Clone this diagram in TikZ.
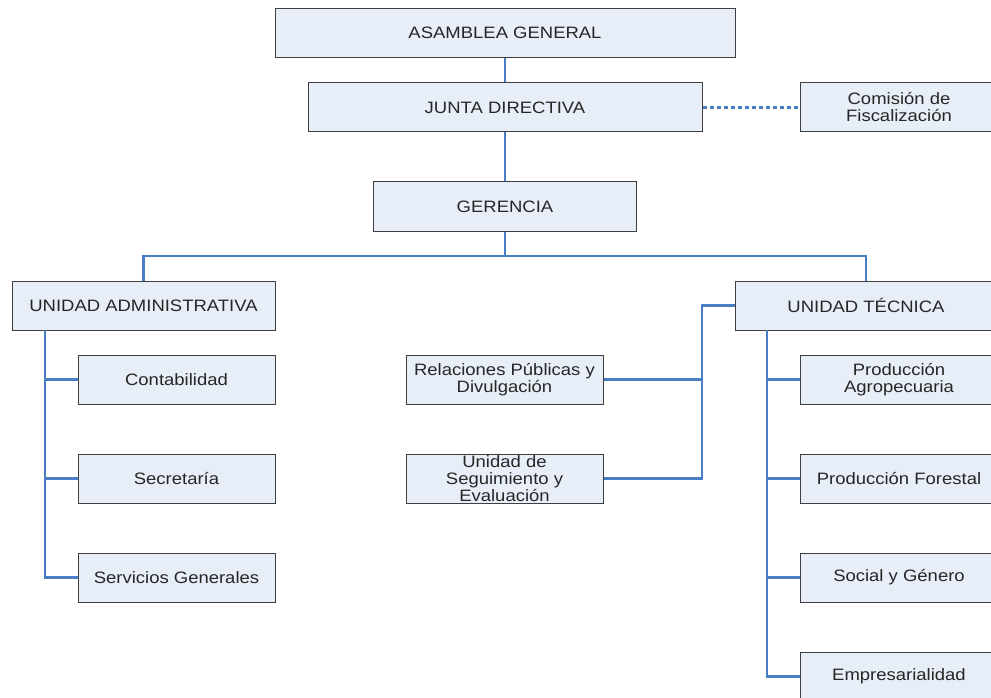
\documentclass[tikz,border=0pt]{standalone}
\usepackage{fontspec}
\setmainfont{Liberation Sans}[FakeStretch=1.12]
\definecolor{boxfill}{HTML}{E8EEF7}
\definecolor{boxline}{HTML}{3F3F3F}
\definecolor{linkblue}{HTML}{4A7EC4}
\tikzset{
    unit/.style={draw=boxline,fill=boxfill,line width=1pt,rectangle,align=center,
        minimum width=197pt,minimum height=49pt,inner sep=0pt,text=black!85},
    link/.style={draw=linkblue,line width=2.8pt},
    dashlink/.style={draw=linkblue,line width=2.4pt,dash pattern=on 4pt off 3pt}
}
\begin{document}
\begin{tikzpicture}[x=1pt,y=-1pt,font=\fontsize{16.5}{17}\selectfont]
    \clip(0,0)rectangle(991,698);
    \fill[white](0,0)rectangle(991,698);

    \node[unit,minimum width=460pt](asamblea)at(505,33){ASAMBLEA GENERAL};
    \node[unit,minimum width=394pt](junta)at(505,107.5){JUNTA DIRECTIVA};
    \node[unit,minimum width=198pt](comision)at(899,107.5){Comisión de\\Fiscalización};
    \node[unit,minimum width=263pt](gerencia)at(505,206.5){GERENCIA};

    \node[unit,minimum width=263pt](uadmin)at(143.5,305.5){UNIDAD ADMINISTRATIVA};
    \node[unit,minimum width=262pt](utec)at(866,305.5){UNIDAD TÉCNICA};

    \node[unit](contab)at(176.5,379.5){Contabilidad};
    \node[unit](secret)at(176.5,478.5){Secretaría};
    \node[unit](servicios)at(176.5,577.5){Servicios Generales};

    \node[unit](relaciones)at(504.5,379.5){Relaciones Públicas y\\Divulgación};
    \node[unit](seguim)at(504.5,478.5){Unidad de\\Seguimiento y\\Evaluación};

    \node[unit](prodagro)at(899,379.5){Producción\\Agropecuaria};
    \node[unit](prodfor)at(899,478.5){Producción Forestal};
    \node[unit](social)at(899,577.5){Social y Género};
    \node[unit](empresa)at(899,676.5){Empresarialidad};

    \coordinate(bus)at(505,256);
    \coordinate(admtop)at(45,330);
    \coordinate(midjoin)at(702,305.5);
    \coordinate(tectop)at(767,330);

    \draw[link](asamblea)--(junta);
    \draw[dashlink](junta)--(comision);
    \draw[link](junta)--(gerencia);
    \draw[link](gerencia)--(bus);
    \draw[link](uadmin)|-(bus)-|(utec);

    \draw[link](admtop)|-(servicios);
    \draw[link](admtop|-contab)--(contab);
    \draw[link](admtop|-secret)--(secret);

    \draw[link](utec)--(midjoin)|-(seguim);
    \draw[link](midjoin|-relaciones)--(relaciones);

    \draw[link](tectop)|-(empresa);
    \draw[link](tectop|-prodagro)--(prodagro);
    \draw[link](tectop|-prodfor)--(prodfor);
    \draw[link](tectop|-social)--(social);
\end{tikzpicture}
\end{document}
